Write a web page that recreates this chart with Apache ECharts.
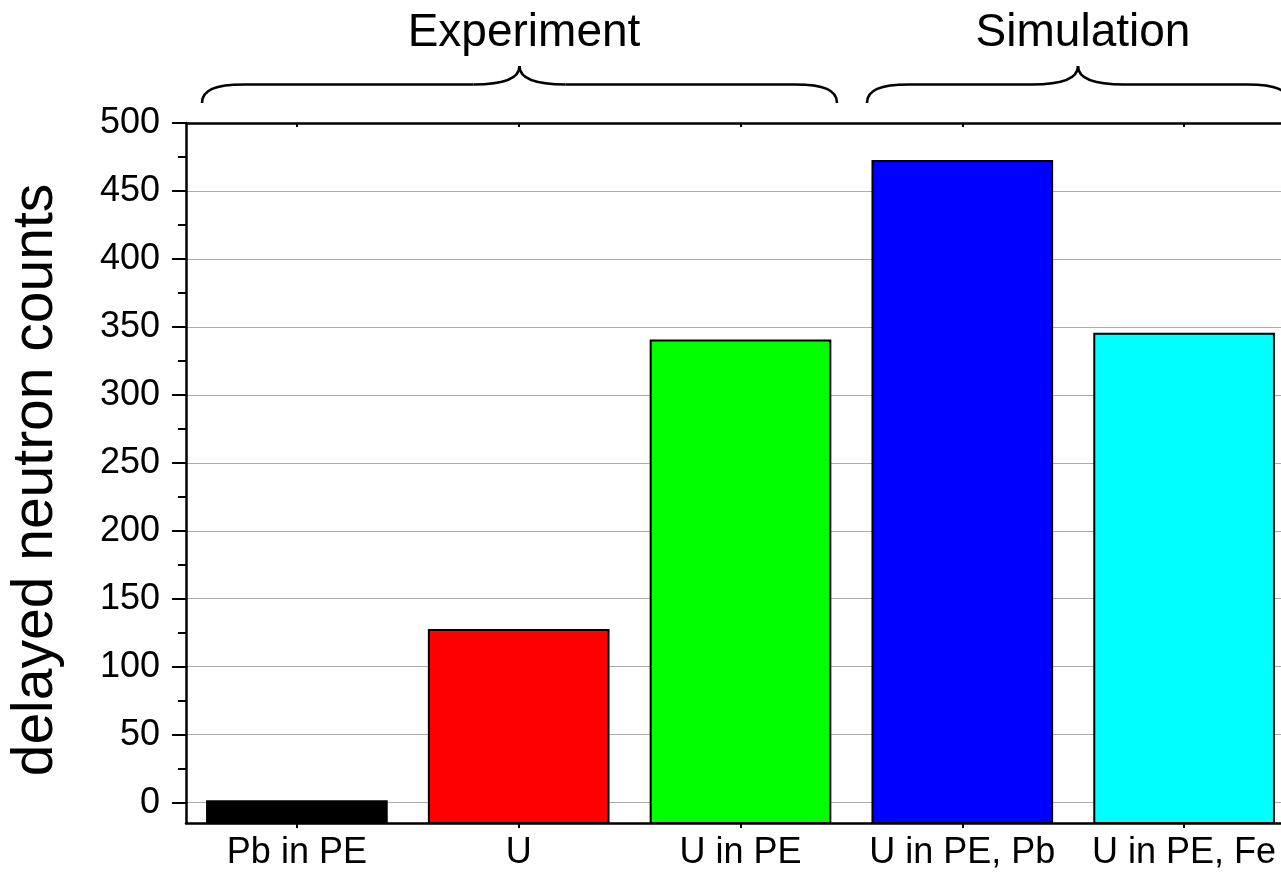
<!DOCTYPE html>
<html><head><meta charset="utf-8">
<script src="https://cdn.jsdelivr.net/npm/echarts@6/dist/echarts.min.js"></script>
<style>html,body{margin:0;padding:0;overflow:hidden;background:#fff}#c{width:1300px;height:874px}</style>
</head><body><div id="c"></div>
<script>
const categories = ['Pb in PE', 'U', 'U in PE', 'U in PE, Pb', 'U in PE, Fe'];
const counts = [1, 127, 340, 472, 345];
const barColors = ['#000000', '#ff0000', '#00ff00', '#0000ff', '#00ffff'];
const yTicks = [0, 50, 100, 150, 200, 250, 300, 350, 400, 450, 500];
const yMinorTicks = [25, 75, 125, 175, 225, 275, 325, 375, 425, 475];
const groupLabels = ['Experiment', 'Simulation'];
const yMin = -15, yMax = 500;
const yTitle = 'delayed neutron counts';

const FONT = 'Liberation Sans, Arial, sans-serif';
const chart = echarts.init(document.getElementById('c'), null, {renderer: 'canvas'});

function brace(x1, xm, x2) {
  const yEnd = 103, yLine = 84.5, yPeak = 66;
  const st = {stroke: '#000', lineWidth: 2.6, fill: null};
  return [
    {type: 'bezierCurve', shape: {x1: x1, y1: yEnd, cpx1: x1, cpy1: yEnd - 13, cpx2: x1 + 13, cpy2: yLine, x2: x1 + 42, y2: yLine}, style: st},
    {type: 'line', shape: {x1: x1 + 42, y1: yLine, x2: xm - 46, y2: yLine}, style: st},
    {type: 'bezierCurve', shape: {x1: xm - 46, y1: yLine, cpx1: xm - 16, cpy1: yLine, cpx2: xm, cpy2: yLine - 6, x2: xm, y2: yPeak}, style: st},
    {type: 'bezierCurve', shape: {x1: xm, y1: yPeak, cpx1: xm, cpy1: yLine - 6, cpx2: xm + 16, cpy2: yLine, x2: xm + 46, y2: yLine}, style: st},
    {type: 'line', shape: {x1: xm + 46, y1: yLine, x2: x2 - 42, y2: yLine}, style: st},
    {type: 'bezierCurve', shape: {x1: x2 - 42, y1: yLine, cpx1: x2 - 13, cpy1: yLine, cpx2: x2, cpy2: yEnd - 13, x2: x2, y2: yEnd}, style: st}
  ];
}

const option = {
  backgroundColor: '#ffffff',
  animation: false,
  textStyle: {fontFamily: FONT},
  grid: {left: 186, top: 123, width: 1109, height: 700},
  xAxis: [
    {
      type: 'category', position: 'bottom', data: categories, boundaryGap: true,
      axisLine: {show: true, onZero: false, lineStyle: {color: '#000', width: 2.5}},
      axisTick: {show: true, alignWithLabel: true, length: 5, lineStyle: {color: '#000', width: 2}},
      axisLabel: {interval: 0, fontSize: 36, color: '#000', margin: 12, fontFamily: FONT},
      splitLine: {show: false}
    },
    {
      type: 'category', position: 'top', data: categories, boundaryGap: true,
      axisLine: {show: true, onZero: false, lineStyle: {color: '#000', width: 2.5}},
      axisTick: {show: true, inside: true, alignWithLabel: true, length: 4, lineStyle: {color: '#000', width: 2}},
      axisLabel: {show: false},
      splitLine: {show: false}
    }
  ],
  yAxis: [
    {
      type: 'value', position: 'left', min: yMin, max: yMax,
      axisLine: {show: true, onZero: false, lineStyle: {color: '#000', width: 2.5}},
      axisTick: {show: true, length: 14, customValues: yTicks, lineStyle: {color: '#000', width: 2}},
      axisLabel: {show: true, customValues: yTicks, fontSize: 36, color: '#000', margin: 26, fontFamily: FONT},
      splitLine: {show: true, lineStyle: {color: '#ababab', width: 1.2}}
    },
    {
      type: 'value', position: 'left', min: yMin, max: yMax,
      axisLine: {show: false, onZero: false},
      axisTick: {show: true, length: 8, customValues: yMinorTicks, lineStyle: {color: '#000', width: 2}},
      axisLabel: {show: false},
      splitLine: {show: false}
    },
    {
      type: 'value', position: 'right', min: yMin, max: yMax,
      axisLine: {show: true, onZero: false, lineStyle: {color: '#000', width: 2.5}},
      axisTick: {show: true, inside: true, length: 14, customValues: yTicks, lineStyle: {color: '#000', width: 2}},
      axisLabel: {show: false},
      splitLine: {show: false}
    }
  ],
  series: [{
    type: 'custom',
    xAxisIndex: 0, yAxisIndex: 0,
    data: categories.map((c, i) => [i, counts[i]]),
    encode: {x: 0, y: 1},
    renderItem: function (params, api) {
      const i = api.value(0);
      const v = api.value(1);
      const top = api.coord([i, v]);
      const bot = api.coord([i, yMin]);
      const w = api.size([1, 0])[0] * 0.81;
      return {
        type: 'rect',
        shape: {x: top[0] - w / 2, y: top[1], width: w, height: bot[1] - top[1]},
        style: {fill: barColors[i], stroke: '#000', lineWidth: 2}
      };
    }
  }],
  graphic: [].concat(
    brace(202, 519.5, 837),
    brace(867, 1078, 1289),
    [
      {type: 'text', x: 524, y: 33, style: {text: groupLabels[0], font: '46px ' + FONT, fill: '#000', textAlign: 'center', textVerticalAlign: 'middle'}},
      {type: 'text', x: 1083, y: 33, style: {text: groupLabels[1], font: '46px ' + FONT, fill: '#000', textAlign: 'center', textVerticalAlign: 'middle'}},
      {type: 'text', x: 36, y: 480, rotation: Math.PI / 2, style: {text: yTitle, font: '57px ' + FONT, fill: '#000', textAlign: 'center', textVerticalAlign: 'middle'}}
    ]
  )
};
chart.setOption(option);
</script>
</body></html>
